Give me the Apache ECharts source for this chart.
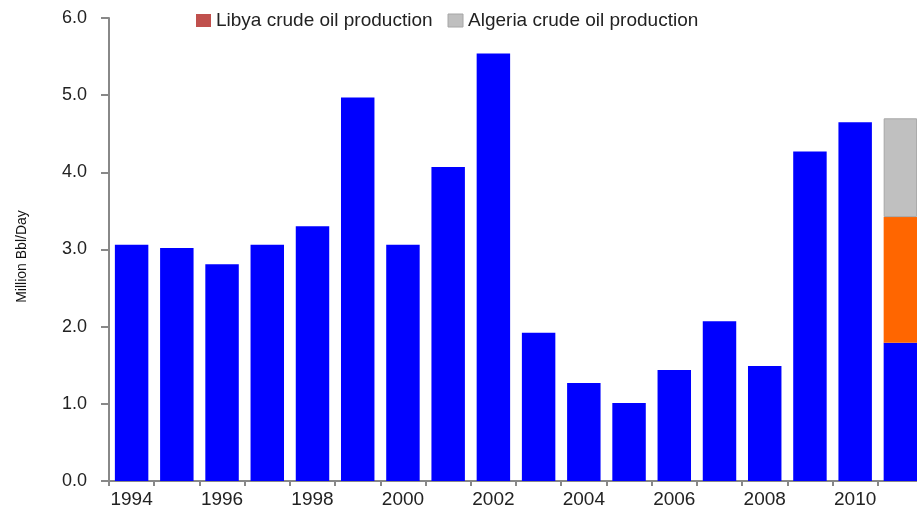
<!DOCTYPE html>
<html>
<head>
<meta charset="utf-8">
<script src="https://cdn.jsdelivr.net/npm/echarts@6/dist/echarts.min.js"></script>
<style>
  html, body { margin: 0; padding: 0; background: #fff; }
  #main { width: 917px; height: 514px; }
</style>
</head>
<body>
<div id="main"></div>
<script>
var years = ['1994', '1995', '1996', '1997', '1998', '1999', '2000', '2001', '2002',
             '2003', '2004', '2005', '2006', '2007', '2008', '2009', '2010', '2011'];
// base production (blue), last year split into Libya / Algeria parts on top
var baseValues = [3.06, 3.02, 2.81, 3.06, 3.30, 4.97, 3.06, 4.07, 5.54,
                  1.92, 1.27, 1.01, 1.44, 2.07, 1.49, 4.27, 4.65, 1.79];
var libyaValues = ['-', '-', '-', '-', '-', '-', '-', '-', '-',
                   '-', '-', '-', '-', '-', '-', '-', '-', 1.63];
var algeriaValues = ['-', '-', '-', '-', '-', '-', '-', '-', '-',
                     '-', '-', '-', '-', '-', '-', '-', '-', 1.28];

var myChart = echarts.init(document.getElementById('main'));

var option = {
    animation: false,
    textStyle: { fontFamily: 'Liberation Sans, Arial, sans-serif' },
    grid: {
        left: 109,
        top: 18,
        bottom: 33,
        right: -6,
        outerBoundsMode: 'none',
        containLabel: false
    },
    legend: {
        top: 6,
        left: 191,
        icon: 'rect',
        itemWidth: 15,
        itemHeight: 13,
        itemGap: 15,
        textStyle: { fontSize: 19, color: '#222' },
        data: [
            { name: 'Libya crude oil production', itemStyle: { color: '#C0504D', borderWidth: 0 } },
            { name: 'Algeria crude oil production', itemStyle: { color: '#BFBFBF', borderColor: '#A6A6A6', borderWidth: 1 } }
        ]
    },
    xAxis: {
        type: 'category',
        data: years,
        axisLine: { lineStyle: { color: '#888', width: 2 } },
        axisTick: { show: true, interval: 0, length: 5, lineStyle: { color: '#888', width: 2 } },
        axisLabel: { interval: 1, margin: 9, fontSize: 19, color: '#222' },
        splitLine: { show: false }
    },
    yAxis: {
        type: 'value',
        min: 0,
        max: 6,
        interval: 1,
        name: 'Million Bbl/Day',
        nameLocation: 'middle',
        nameGap: 80,
        nameRotate: 90,
        nameTextStyle: { fontSize: 14, color: '#111', padding: [0, 14, 0, 0] },
        axisLine: { show: true, lineStyle: { color: '#888', width: 2 } },
        axisTick: { show: true, length: 8, lineStyle: { color: '#888', width: 2 } },
        axisLabel: {
            margin: 22,
            fontSize: 18,
            color: '#222',
            formatter: function (v) { return v.toFixed(1); }
        },
        splitLine: { show: false }
    },
    series: [{
        name: 'Crude oil production',
        type: 'bar',
        stack: 'total',
        barCategoryGap: '26%',
        data: baseValues,
        itemStyle: { color: '#0000FF' }
    }, {
        name: 'Libya crude oil production',
        type: 'bar',
        stack: 'total',
        data: libyaValues,
        itemStyle: { color: '#FF6600' }
    }, {
        name: 'Algeria crude oil production',
        type: 'bar',
        stack: 'total',
        data: algeriaValues,
        itemStyle: { color: '#C0C0C0', borderColor: '#A6A6A6', borderWidth: 1 }
    }]
};
myChart.setOption(option);
</script>
</body>
</html>
